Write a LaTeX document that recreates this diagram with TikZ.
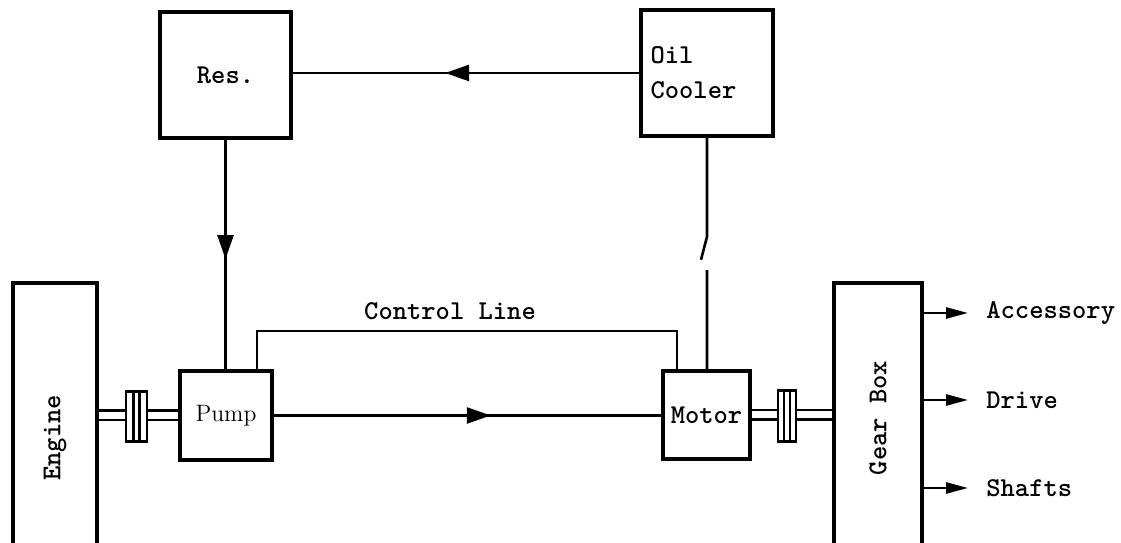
\documentclass[tikz,border=0pt]{standalone}
\usepackage{tikz}
\usetikzlibrary{arrows.meta,positioning,calc,decorations.markings}

\tikzset{
  unit/.style={draw, line width=2pt, inner sep=0pt, font=\ttfamily\bfseries\fontsize{15.5}{20}\selectfont},
  tag/.style={inner sep=0pt, font=\ttfamily\bfseries\fontsize{15.5}{20}\selectfont},
  pipe/.style={line width=1.5pt},
  flowmark/.style={postaction={decorate}, decoration={markings,
      mark=at position #1 with {\arrow{Triangle[length=0.48cm,width=0.32cm]}}}},
  shaft/.style={double, double distance=0.14cm, line width=0.05cm},
  coupling/.style={draw, fill=white, line width=1.6pt, inner sep=0pt,
      path picture={
        \draw[line width=1.2pt] ([xshift=-0.06cm]path picture bounding box.north) -- ([xshift=-0.06cm]path picture bounding box.south);
        \draw[line width=1.2pt] ([xshift=0.06cm]path picture bounding box.north) -- ([xshift=0.06cm]path picture bounding box.south);}}
}

\begin{document}
\begin{tikzpicture}[x=1cm,y=1cm]
			\useasboundingbox (0,0) rectangle (22.42,10.86);
			
			% boxes
			\node[unit, minimum width=2.62cm, minimum height=2.52cm] (res) at (4.51,9.36) {Res.};
			\node[unit, minimum width=2.64cm, minimum height=2.52cm] (cooler) at (14.14,9.40) {};
			\node[tag, anchor=west, align=left] (coolertext) at ([xshift=0.22cm]cooler.west) {Oil\\Cooler};
			\node[unit, minimum width=1.84cm, minimum height=1.78cm, font=\rmfamily\fontsize{13.5}{16}\selectfont] (pump) at (4.52,2.55) {Pump};
			\node[unit, minimum width=1.74cm, minimum height=1.76cm] (motor) at (14.13,2.56) {Motor};
			\node[unit, minimum width=1.68cm, minimum height=6.2cm] (engine) at (1.10,2.10) {\rotatebox{90}{Engine}};
			\node[unit, minimum width=1.76cm, minimum height=5.4cm] (gear) at (17.56,2.50) {\rotatebox{90}{Gear Box}};
			
			% oil circuit
			\draw[pipe, flowmark=0.56] (cooler.west) -- (cooler.west -| res.east);
			\draw[pipe, flowmark=0.52] (res.south) -- (res.south |- pump.north);
			\draw[pipe, flowmark=0.56] (pump.east) -- (pump.east -| motor.west);
			\draw[pipe] (cooler.south) -- ++(0,-1.98) -- ++(-0.12,-0.46)
			      (motor.north -| cooler.south) -- ++(0,1.98);
			
			% control line
			\coordinate (ctrlA) at (5.14,4.24);
			\coordinate (ctrlB) at (13.54,4.24);
			\draw[line width=1.1pt] (pump.north -| ctrlA) -- (ctrlA) -- (ctrlB) -- (motor.north -| ctrlB);
			\node[tag] (ctrltext) at (9.00,4.64) {Control Line};
			
			% shafts and couplings
			\draw[shaft] (engine.east |- pump.west) -- (pump.west);
			\draw[shaft] (motor.east) -- (motor.east -| gear.west);
			\node[coupling, minimum width=0.42cm, minimum height=1.0cm] (cplA) at (2.73,2.53) {};
			\node[coupling, minimum width=0.36cm, minimum height=1.02cm] (cplB) at (15.74,2.54) {};
			
			% outputs
			\node[tag, anchor=west] (acc) at (19.72,4.60) {Accessory};
			\node[tag, anchor=west] (drv) at (19.72,2.86) {Drive};
			\node[tag, anchor=west] (sft) at (19.72,1.10) {Shafts};
			\foreach \out in {acc,drv,sft}
			  \draw[pipe, -{Triangle[length=0.44cm,width=0.22cm]}, shorten >=0.36cm] (\out.west -| gear.east) -- (\out.west);
			
		\end{tikzpicture}
\end{document}
